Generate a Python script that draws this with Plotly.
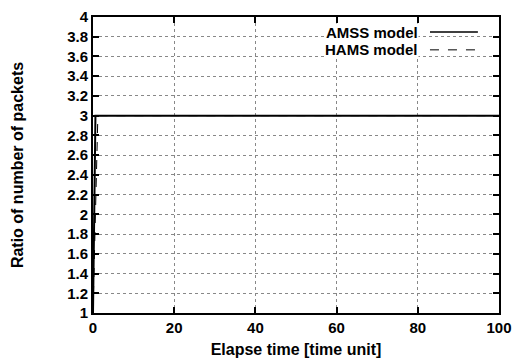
import plotly.graph_objects as go

# Data
amss_x = [0, 0.3, 0.6, 100]
amss_y = [1, 2.0, 3.0, 3.0]
hams_x = [0, 0.6, 1.2, 100]
hams_y = [1, 2.0, 3.0, 3.0]
x_ticks = [0, 20, 40, 60, 80, 100]
x_tick_labels = ["0", "20", "40", "60", "80", "100"]
y_ticks = [1, 1.2, 1.4, 1.6, 1.8, 2, 2.2, 2.4, 2.6, 2.8, 3, 3.2, 3.4, 3.6, 3.8, 4]
y_tick_labels = ["1", "1.2", "1.4", "1.6", "1.8", "2", "2.2", "2.4", "2.6", "2.8", "3", "3.2", "3.4", "3.6", "3.8", "4"]

font = "Liberation Sans, Arial, sans-serif"

fig = go.Figure()
fig.add_trace(go.Scatter(x=amss_x, y=amss_y, mode="lines", name="AMSS model",
                         line=dict(color="black", width=2), showlegend=False))
fig.add_trace(go.Scatter(x=hams_x, y=hams_y, mode="lines", name="HAMS model",
                         line=dict(color="black", width=1, dash="dash"), showlegend=False))

axis_common = dict(showline=True, linecolor="black", linewidth=2, mirror="ticks",
                   ticks="inside", ticklen=6, tickwidth=2, tickcolor="black",
                   showgrid=True, gridcolor="#888888", griddash="dot", gridwidth=1,
                   zeroline=False, automargin=False,
                   tickfont=dict(family=font, size=15, color="black"))

fig.update_xaxes(range=[0, 100], tickvals=x_ticks, ticktext=["<b>%s</b>" % t for t in x_tick_labels],
                 title=dict(text="<b>Elapse time [time unit]</b>", font=dict(family=font, size=16, color="black"), standoff=9),
                 **axis_common)
fig.update_yaxes(range=[1, 4], tickvals=y_ticks, ticktext=["<b>%s</b>" % t for t in y_tick_labels],
                 title=dict(text="<b>Ratio of number of packets</b>", font=dict(family=font, size=16, color="black"), standoff=40),
                 **axis_common)

# Legend (gnuplot style: text right-aligned, sample on right)
fig.add_annotation(xref="paper", yref="paper", x=0.803, y=0.949, xanchor="right", yanchor="middle",
                   text="<b>AMSS model</b>", showarrow=False,
                   font=dict(family=font, size=15, color="black"), bgcolor="white", borderpad=0)
fig.add_annotation(xref="paper", yref="paper", x=0.803, y=0.889, xanchor="right", yanchor="middle",
                   text="<b>HAMS model</b>", showarrow=False,
                   font=dict(family=font, size=15, color="black"), bgcolor="white", borderpad=0)
fig.add_shape(type="line", xref="paper", yref="paper", x0=0.830, x1=0.948, y0=0.949, y1=0.949,
              line=dict(color="black", width=1.5))
fig.add_shape(type="line", xref="paper", yref="paper", x0=0.830, x1=0.948, y0=0.889, y1=0.889,
              line=dict(color="black", width=1, dash="dash"))

fig.update_layout(width=521, height=363, margin=dict(l=93, r=22, t=17, b=50),
                  plot_bgcolor="white", paper_bgcolor="white",
                  font=dict(family=font, color="black"))

fig.write_html("out.html", config={"displayModeBar": False},
               post_script="document.body.style.margin='0';")
